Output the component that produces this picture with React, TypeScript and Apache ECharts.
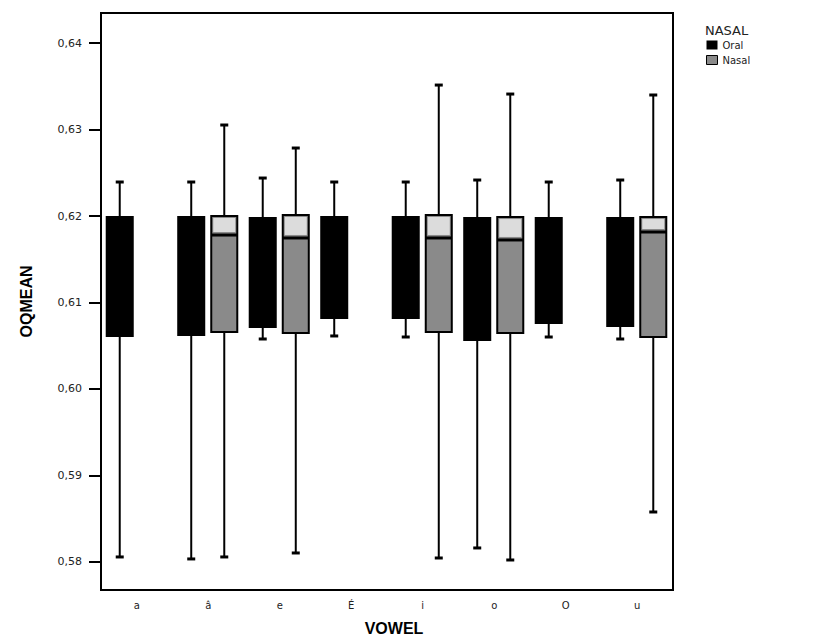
import React, { useEffect, useRef } from 'react';
import * as echarts from 'echarts';

const vowels = ['a', 'â', 'e', 'É', 'i', 'o', 'O', 'u'];
const yTicks = [0.58, 0.59, 0.6, 0.61, 0.62, 0.63, 0.64];

// [min, Q1, median, Q3, max]
const oralStats = [
  [0.58058, 0.60613, 0.61838, 0.61988, 0.62393], // a
  [0.58035, 0.60624, 0.61838, 0.61988, 0.62393], // â
  [0.60578, 0.60717, 0.6185, 0.61977, 0.62439], // e
  [0.60613, 0.60821, 0.6185, 0.61988, 0.62393], // É
  [0.60601, 0.60821, 0.6184, 0.61988, 0.62393], // i
  [0.58162, 0.60566, 0.6183, 0.61977, 0.62416], // o
  [0.60601, 0.60763, 0.6184, 0.61977, 0.62393], // O
  [0.60578, 0.60728, 0.6184, 0.61977, 0.62416], // u
];

const nasalVowels = ['â', 'e', 'i', 'o', 'u'];
const nasalStats = [
  [0.58058, 0.60659, 0.6178, 0.62, 0.63052], // â
  [0.58104, 0.60647, 0.61746, 0.62012, 0.62786], // e
  [0.58046, 0.60659, 0.61746, 0.62012, 0.63514], // i
  [0.58023, 0.60647, 0.61723, 0.61988, 0.6341], // o
  [0.58578, 0.60601, 0.61815, 0.61988, 0.63399], // u
];

const FONT = "'Liberation Sans', Arial, sans-serif";
const WIDE = "'DejaVu Sans', 'Liberation Sans', sans-serif";
const NASAL_FILL = '#8a8a8a';

function makeRender(offsetFrac: number, fill: string, nasal: boolean) {
  return (params: any, api: any) => {
    const idx = api.value(0);
    const band = api.size([1, 0])[0];
    const cx = api.coord([idx, 0.6])[0] + offsetFrac * band;
    const py = (k: number) => api.coord([idx, api.value(k)])[1];
    const pMin = py(1), pQ1 = py(2), pMed = py(3), pQ3 = py(4), pMax = py(5);
    const w = band * 0.364;
    const children: any[] = [
      { type: 'line', shape: { x1: cx, y1: pMax, x2: cx, y2: pQ3 }, style: { stroke: '#000', lineWidth: 2 } },
      { type: 'line', shape: { x1: cx, y1: pQ1, x2: cx, y2: pMin }, style: { stroke: '#000', lineWidth: 2 } },
      { type: 'line', shape: { x1: cx - 4, y1: pMax, x2: cx + 4, y2: pMax }, style: { stroke: '#000', lineWidth: 3 } },
      { type: 'line', shape: { x1: cx - 4, y1: pMin, x2: cx + 4, y2: pMin }, style: { stroke: '#000', lineWidth: 3 } },
      { type: 'rect', shape: { x: cx - w / 2, y: pQ3, width: w, height: pQ1 - pQ3 }, style: { fill, stroke: '#000', lineWidth: 2 } },
    ];
    if (nasal) {
      children.push({
        type: 'rect',
        shape: { x: cx - w / 2 + 2, y: pQ3 + 2, width: w - 4, height: Math.max(0, pMed - pQ3 - 5) },
        style: { fill: '#dcdcdc' },
      });
      children.push({
        type: 'line',
        shape: { x1: cx - w / 2, y1: pMed, x2: cx + w / 2, y2: pMed },
        style: { stroke: '#000', lineWidth: 3 },
      });
    }
    return { type: 'group', children };
  };
}

export default function App() {
  const ref = useRef<HTMLDivElement>(null);
  useEffect(() => {
    if (!ref.current) return;
    const chart = echarts.init(ref.current, null, { renderer: 'svg' });
    const oralData = vowels.map((v, i) => [i, ...oralStats[i]]);
    const nasalData = nasalVowels.map((v, i) => [vowels.indexOf(v), ...nasalStats[i]]);
    chart.setOption({
      animation: false,
      backgroundColor: '#fff',
      title: {
        text: 'NASAL',
        left: 705,
        top: 24,
        padding: 0,
        textStyle: { fontFamily: WIDE, fontSize: 13, fontWeight: 'normal', color: '#222' },
      },
      legend: {
        orient: 'vertical',
        left: 706,
        top: 40,
        padding: 0,
        itemWidth: 11,
        itemHeight: 9,
        itemGap: 5,
        icon: 'rect',
        textStyle: { fontFamily: WIDE, fontSize: 10, color: '#222' },
        data: [
          { name: 'Oral', itemStyle: { color: '#000' } },
          { name: 'Nasal', itemStyle: { color: NASAL_FILL, borderColor: '#000', borderWidth: 1 } },
        ],
      },
      grid: {
        left: 101,
        right: 144,
        top: 13,
        bottom: 53,
        show: true,
        borderColor: '#000',
        borderWidth: 2,
        containLabel: false,
      },
      xAxis: {
        type: 'category',
        data: vowels,
        boundaryGap: true,
        name: 'VOWEL',
        nameLocation: 'middle',
        nameGap: 30,
        nameTextStyle: {
          fontFamily: FONT,
          fontSize: 16,
          fontWeight: 'bold',
          color: '#000',
          padding: [0, 0, 0, 14],
        },
        axisLine: { lineStyle: { color: '#000', width: 2 } },
        axisTick: { alignWithLabel: true, length: 7, lineStyle: { color: '#000', width: 2 } },
        axisLabel: { fontFamily: WIDE, fontSize: 10, color: '#222', margin: 10 },
        splitLine: { show: false },
      },
      yAxis: {
        type: 'value',
        min: 0.57676,
        max: 0.64347,
        name: 'OQMEAN',
        nameLocation: 'middle',
        nameGap: 67,
        nameTextStyle: { fontFamily: FONT, fontSize: 16, fontWeight: 'bold', color: '#000' },
        axisLine: { show: true, lineStyle: { color: '#000', width: 2 } },
        axisTick: { show: true, length: 12, customValues: yTicks, lineStyle: { color: '#000', width: 2 } },
        axisLabel: {
          fontFamily: WIDE,
          fontSize: 11,
          color: '#222',
          margin: 19,
          customValues: yTicks,
          formatter: (v: number) => v.toFixed(2).replace('.', ','),
        },
        splitLine: { show: false },
      },
      series: [
        {
          name: 'Oral',
          type: 'custom',
          itemStyle: { color: '#000' },
          renderItem: makeRender(-0.238, '#000', false),
          encode: { x: 0, y: [1, 2, 3, 4, 5] },
          data: oralData,
        },
        {
          name: 'Nasal',
          type: 'custom',
          itemStyle: { color: NASAL_FILL },
          renderItem: makeRender(0.224, NASAL_FILL, true),
          encode: { x: 0, y: [1, 2, 3, 4, 5] },
          data: nasalData,
        },
      ],
    });
    return () => chart.dispose();
  }, []);
  return <div ref={ref} style={{ width: 817, height: 643, position: 'absolute', left: 0, top: 0 }} />;
}
